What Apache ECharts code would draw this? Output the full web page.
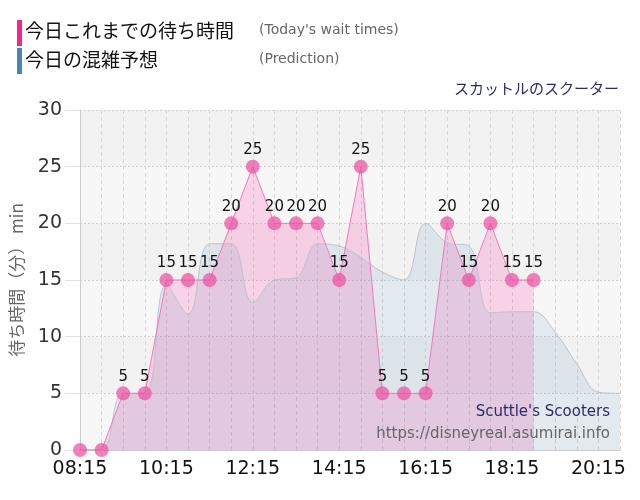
<!DOCTYPE html>
<html>
<head>
<meta charset="utf-8">
<script src="https://cdn.jsdelivr.net/npm/echarts@6/dist/echarts.min.js"></script>
<style>
html,body{margin:0;padding:0;background:#fff;}
#chart{width:640px;height:500px;}
</style>
</head>
<body>
<div id="chart"></div>
<script>
var times = ['08:15','08:45','09:15','09:45','10:15','10:45','11:15','11:45','12:15','12:45','13:15','13:45','14:15','14:45','15:15','15:45','16:15','16:45','17:15','17:45','18:15','18:45','19:15','19:45','20:15','20:45'];
var waitTimes = [0,0,5,5,15,15,15,20,25,20,20,20,15,25,5,5,5,20,15,20,15,15];
var prediction = [0,0,5,5,14.6,12,18.2,18.2,13,15,15.2,18.2,18,17,15.7,15,20,18.3,18,12.1,12.2,12.2,10.4,7.6,5.1,5];
var yTicks = [0,5,10,15,20,25,30];

var FONT = 'DejaVu Sans, Verdana, sans-serif';
var JP = '"Noto Sans CJK JP", sans-serif';

var chart = echarts.init(document.getElementById('chart'), null, {renderer:'canvas'});
chart.setOption({
  animation: false,
  backgroundColor: '#fff',
  grid: {left: 80, right: 20, top: 110, bottom: 50, containLabel: false},
  xAxis: {
    type: 'category',
    data: times,
    boundaryGap: false,
    axisLine: {lineStyle: {color: '#ccc'}},
    axisTick: {show: false},
    axisLabel: {interval: 3, color: '#111', fontSize: 19, fontFamily: FONT, margin: 10},
    splitLine: {show: true, interval: 0, lineStyle: {color: '#d8d8d8', type: [4, 3]}}
  },
  yAxis: {
    type: 'value',
    min: yTicks[0],
    max: yTicks[yTicks.length - 1],
    interval: 5,
    name: '待ち時間（分） min',
    nameLocation: 'middle',
    nameGap: 55,
    nameTextStyle: {color: '#666', fontSize: 17, fontFamily: JP},
    axisLine: {show: true, lineStyle: {color: '#ccc'}},
    axisTick: {show: true, length: 15, lineStyle: {color: '#e0e0e0'}},
    axisLabel: {color: '#333', fontSize: 19, fontFamily: FONT, margin: 18},
    splitLine: {show: true, lineStyle: {color: '#d0d0d0', type: [2, 2]}},
    splitArea: {show: true, areaStyle: {color: ['#f7f7f7', '#f2f2f2']}}
  },
  graphic: [
    {type: 'rect', left: 17, top: 20, shape: {width: 5, height: 26}, style: {fill: '#f0288c'}},
    {type: 'rect', left: 17, top: 48, shape: {width: 5, height: 26}, style: {fill: '#4a86b4'}},
    {type: 'text', left: 25, top: 21, style: {text: '今日これまでの待ち時間', font: '19px "Noto Sans CJK JP", sans-serif', fill: '#111'}},
    {type: 'text', left: 25, top: 50, style: {text: '今日の混雑予想', font: '19px "Noto Sans CJK JP", sans-serif', fill: '#111'}},
    {type: 'text', left: 259, top: 23, style: {text: "(Today's wait times)", font: '14px DejaVu Sans, sans-serif', fill: '#666'}},
    {type: 'text', left: 259, top: 52, style: {text: '(Prediction)', font: '14px DejaVu Sans, sans-serif', fill: '#666'}},
    {type: 'text', right: 21, top: 81, style: {text: 'スカットルのスクーター', font: '15px "Noto Sans CJK JP", sans-serif', fill: '#2b2b6b'}},
    {type: 'text', right: 30, top: 405, z: 100, style: {text: "Scuttle's Scooters", font: '15px DejaVu Sans, sans-serif', fill: '#2b2b6b'}},
    {type: 'text', right: 30, top: 427, z: 100, style: {text: 'https://disneyreal.asumirai.info', font: '15px DejaVu Sans, sans-serif', fill: '#666'}}
  ],
  series: [
    {
      type: 'line', data: waitTimes, z: 1,
      symbol: 'none', lineStyle: {width: 0},
      areaStyle: {color: 'rgba(255,20,147,0.23)'}
    },
    {
      type: 'line', data: prediction, z: 2, smooth: 0.4,
      symbol: 'none', lineStyle: {width: 1, color: '#b5c5d2'},
      areaStyle: {color: 'rgba(70,130,180,0.16)'}
    },
    {
      type: 'line', data: waitTimes, z: 3,
      symbol: 'circle', symbolSize: 14, showAllSymbol: true,
      lineStyle: {width: 1, color: '#f07ab8'},
      itemStyle: {color: 'rgba(236,80,160,0.72)'},
      label: {show: true, position: 'top', distance: 2, color: '#111', fontSize: 15, fontFamily: FONT,
        formatter: function (p) { return p.value > 0 ? String(p.value) : ''; }}
    }
  ]
});
</script>
</body>
</html>
